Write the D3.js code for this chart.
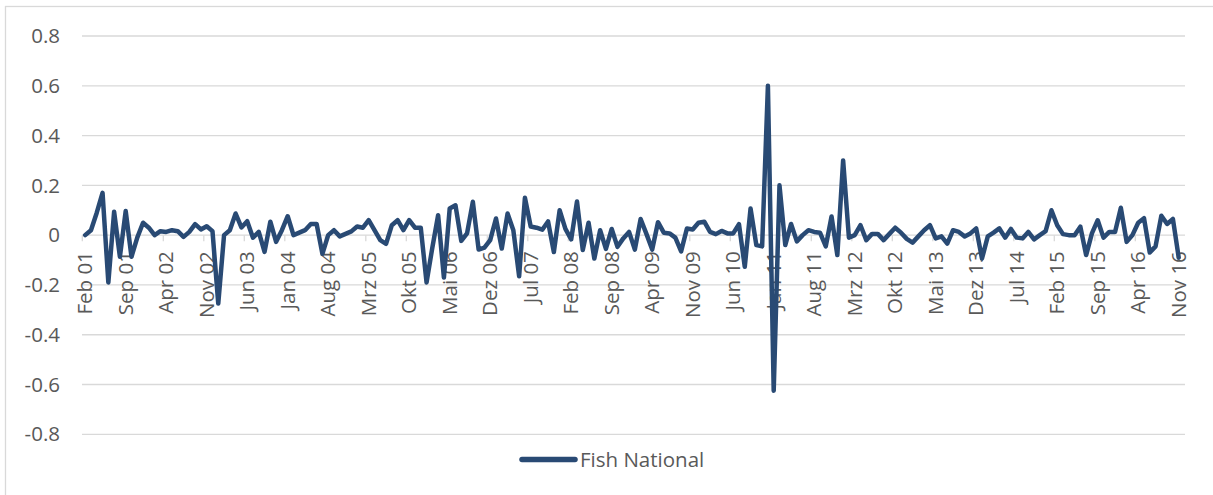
<!DOCTYPE html>
<html>
<head>
<meta charset="utf-8">
<script src="https://cdn.jsdelivr.net/npm/d3@7/dist/d3.min.js"></script>
<style>
  html, body { margin: 0; padding: 0; background: #ffffff; }
  svg { display: block; }
  text { font-family: "Open Sans", "Noto Sans", sans-serif; fill: #595959; }
</style>
</head>
<body>
<svg id="chart" width="1213" height="495"></svg>
<script>
// ---- data ----
const seriesName = "Fish National";
const monthNames = ["Jan","Feb","Mrz","Apr","Mai","Jun","Jul","Aug","Sep","Okt","Nov","Dez"];
const startYear = 2001, startMonth = 1; // Feb 2001 (0-based month index)
const values = [
  0.0, 0.02, 0.09, 0.17, -0.19, 0.094, -0.087, 0.097, -0.087, -0.01,
  0.05, 0.03, 0.0, 0.016, 0.013, 0.02, 0.016, -0.007, 0.013, 0.044,
  0.023, 0.036, 0.016, -0.275, 0.0, 0.02, 0.087, 0.031, 0.056, -0.01,
  0.013, -0.067, 0.054, -0.027, 0.02, 0.076, 0.0, 0.01, 0.02, 0.045,
  0.045, -0.075, 0.0, 0.02, -0.005, 0.005, 0.015, 0.035, 0.03, 0.06,
  0.02, -0.02, -0.035, 0.04, 0.06, 0.02, 0.06, 0.03, 0.03, -0.19,
  -0.05, 0.08, -0.17, 0.107, 0.12, -0.023, 0.007, 0.134, -0.058, -0.05,
  -0.02, 0.067, -0.054, 0.087, 0.02, -0.165, 0.15, 0.035, 0.03, 0.022,
  0.055, -0.068, 0.10, 0.025, -0.017, 0.135, -0.06, 0.05, -0.094, 0.02,
  -0.055, 0.025, -0.047, -0.013, 0.013, -0.058, 0.065, 0.005, -0.058, 0.052,
  0.01, 0.007, -0.01, -0.065, 0.027, 0.023, 0.05, 0.054, 0.013, 0.004,
  0.017, 0.007, 0.007, 0.044, -0.127, 0.107, -0.04, -0.045, 0.6, -0.625,
  0.2, -0.04, 0.045, -0.025, 0.0, 0.02, 0.013, 0.01, -0.045, 0.075,
  -0.08, 0.30, -0.01, 0.0, 0.04, -0.02, 0.005, 0.005, -0.02, 0.005,
  0.03, 0.01, -0.015, -0.03, -0.005, 0.02, 0.04, -0.013, -0.005, -0.034,
  0.02, 0.013, -0.005, 0.007, 0.027, -0.094, -0.005, 0.01, 0.027, -0.01,
  0.025, -0.01, -0.013, 0.013, -0.017, 0.0, 0.016, 0.1, 0.04, 0.004,
  0.0, 0.0, 0.034, -0.08, 0.007, 0.06, -0.01, 0.013, 0.013, 0.11,
  -0.027, 0.0, 0.05, 0.068, -0.07, -0.045, 0.078, 0.045, 0.065, -0.09
];
const yTickValues = [0.8, 0.6, 0.4, 0.2, 0, -0.2, -0.4, -0.6, -0.8];
const yTickLabels = ["0.8", "0.6", "0.4", "0.2", "0", "-0.2", "-0.4", "-0.6", "-0.8"];
const xLabelEvery = 7;

const categories = values.map((v, i) => {
  const m = startMonth + i;
  const yr = startYear + Math.floor(m / 12);
  return monthNames[m % 12] + " " + String(yr % 100).padStart(2, "0");
});

// ---- layout ----
const svg = d3.select("#chart");
const lineColor = "#294a74";
const gridColor = "#d9d9d9";
const fontSize = 20.5;

svg.append("rect")
  .attr("x", 5.5).attr("y", 6.5).attr("width", 1300).attr("height", 600)
  .attr("fill", "none").attr("stroke", gridColor).attr("stroke-width", 1.3);

const x = d3.scaleBand().domain(d3.range(values.length)).range([82.3, 1181.6]).padding(0);
const y = d3.scaleLinear().domain([-0.8, 0.8]).range([434.3, 36]);
const gridX0 = 82, gridX1 = 1185;

// gridlines
svg.append("g").selectAll("line").data(yTickValues).join("line")
  .attr("x1", gridX0).attr("x2", gridX1)
  .attr("y1", d => y(d)).attr("y2", d => y(d))
  .attr("stroke", gridColor).attr("stroke-width", 1.3);

// y labels
svg.append("g").selectAll("text").data(yTickValues).join("text")
  .attr("x", 60).attr("y", d => y(d)).attr("dy", "0.35em")
  .attr("text-anchor", "end").attr("font-size", fontSize)
  .text((d, i) => yTickLabels[i]);

// x axis ticks (category boundaries)
const tickIdx = d3.range(0, values.length + 1, xLabelEvery);
svg.append("g").selectAll("line").data(tickIdx).join("line")
  .attr("x1", d => x(0) + d * x.step()).attr("x2", d => x(0) + d * x.step())
  .attr("y1", y(0)).attr("y2", y(0) + 6)
  .attr("stroke", gridColor).attr("stroke-width", 1.3);

// x labels
const labelIdx = d3.range(0, values.length, xLabelEvery);
svg.append("g").selectAll("text").data(labelIdx).join("text")
  .attr("transform", d => `translate(${x(d) + x.bandwidth() / 2},${y(0) + 16}) rotate(-90)`)
  .attr("dy", "0.35em")
  .attr("text-anchor", "end").attr("font-size", fontSize)
  .text(d => categories[d]);

// line
const line = d3.line()
  .x((d, i) => x(i) + x.bandwidth() / 2)
  .y(d => y(d));
svg.append("path").datum(values)
  .attr("d", line)
  .attr("fill", "none").attr("stroke", lineColor)
  .attr("stroke-width", 4.5).attr("stroke-linejoin", "round").attr("stroke-linecap", "round");

// legend
svg.append("line")
  .attr("x1", 522).attr("x2", 575).attr("y1", 459.5).attr("y2", 459.5)
  .attr("stroke", lineColor).attr("stroke-width", 5.5).attr("stroke-linecap", "round");
svg.append("text")
  .attr("x", 580).attr("y", 466.5).attr("font-size", fontSize)
  .text(seriesName);
</script>
</body>
</html>
